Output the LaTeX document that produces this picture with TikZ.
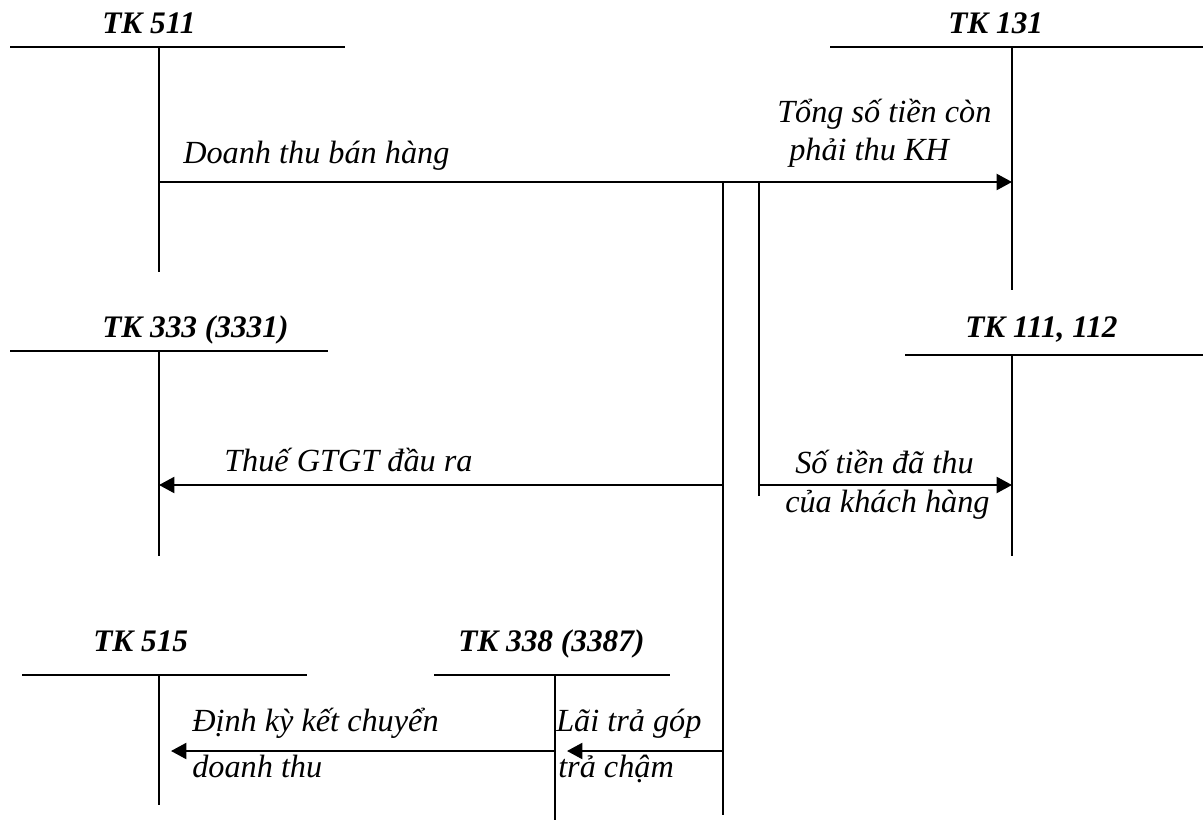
\documentclass[tikz,border=0pt]{standalone}
\usepackage{fontspec}
\setmainfont{Liberation Serif}
\usetikzlibrary{arrows.meta}
\begin{document}
\begin{tikzpicture}[x=0.75pt,y=-0.75pt,
  ln/.style={line width=1.6pt},
  arr/.style={ln,-{Triangle[length=11.5pt,width=12pt]}},
  ttl/.style={anchor=base west,inner sep=0pt,font=\fontsize{23.5}{28}\selectfont\bfseries\itshape},
  lbl/.style={anchor=base west,inner sep=0pt,font=\fontsize{24.2}{29}\selectfont\itshape}]
\useasboundingbox (0,0) rectangle (1203,820);

% --- titles
\node[ttl] (t511) at (102,34) {TK 511};
\node[ttl] (t131) at (948,34) {TK 131};
\node[ttl] (t333) at (102,337) {TK 333 (3331)};
\node[ttl] (t111) at (965,337) {TK 111, 112};
\node[ttl] (t515) at (93,651) {TK 515};
\node[ttl] (t338) at (458,651) {TK 338 (3387)};

% --- T accounts
\coordinate (a511l) at (10,47);  \coordinate (a511r) at (345,47);
\coordinate (a511t) at (159,47); \coordinate (a511b) at (159,272);
\coordinate (a131l) at (830,47); \coordinate (a131r) at (1203,47);
\coordinate (a131t) at (1012,47); \coordinate (a131b) at (1012,290);
\coordinate (a333l) at (10,351); \coordinate (a333r) at (328,351);
\coordinate (a333t) at (159,351); \coordinate (a333b) at (159,556);
\coordinate (a111l) at (905,355); \coordinate (a111r) at (1203,355);
\coordinate (a111t) at (1012,355); \coordinate (a111b) at (1012,556);
\coordinate (a515l) at (22,675); \coordinate (a515r) at (307,675);
\coordinate (a515t) at (159,675); \coordinate (a515b) at (159,805);
\coordinate (a338l) at (434,675); \coordinate (a338r) at (670,675);
\coordinate (a338t) at (555,675); \coordinate (a338b) at (555,820);

\foreach \a in {511,131,333,111,515,338}{
  \draw[ln] (a\a l) -- (a\a r);
  \draw[ln] (a\a t) -- (a\a b);
}

% --- connector points
\coordinate (s1) at (159,182);  \coordinate (e1) at (1012,182);
\coordinate (v1t) at (723,182); \coordinate (v1b) at (723,815);
\coordinate (v2t) at (759,182); \coordinate (v2b) at (759,496);
\coordinate (g1) at (723,485);  \coordinate (g2) at (159,485);
\coordinate (h1) at (759,485);  \coordinate (h2) at (1012,485);
\coordinate (l1) at (723,751);  \coordinate (l2) at (567,751);
\coordinate (k1) at (555,751);  \coordinate (k2) at (171,751);

\draw[arr] (s1) -- (e1);
\draw[ln] (v1t) -- (v1b);
\draw[ln] (v2t) -- (v2b);
\draw[arr] (g1) -- (g2);
\draw[arr] (h1) -- (h2);
\draw[arr] (l1) -- (l2);
\draw[arr] (k1) -- (k2);

% --- labels
\node[lbl] (dt) at (183,164) {Doanh thu bán hàng};
\node[lbl] (ts1) at (777,123) {Tổng số tiền còn};
\node[lbl] (ts2) at (789,161) {phải thu KH};
\node[lbl] (vat) at (224,471) {Thuế GTGT đầu ra};
\node[lbl] (st1) at (795,473) {Số tiền đã thu};
\node[lbl] (st2) at (785,512) {của khách hàng};
\node[lbl] (dk1) at (192,731) {Định kỳ kết chuyển};
\node[lbl] (dk2) at (192,777) {doanh thu};
\node[lbl] (lt1) at (556,731) {Lãi trả góp};
\node[lbl] (lt2) at (558,777) {trả chậm};
\end{tikzpicture}
\end{document}
